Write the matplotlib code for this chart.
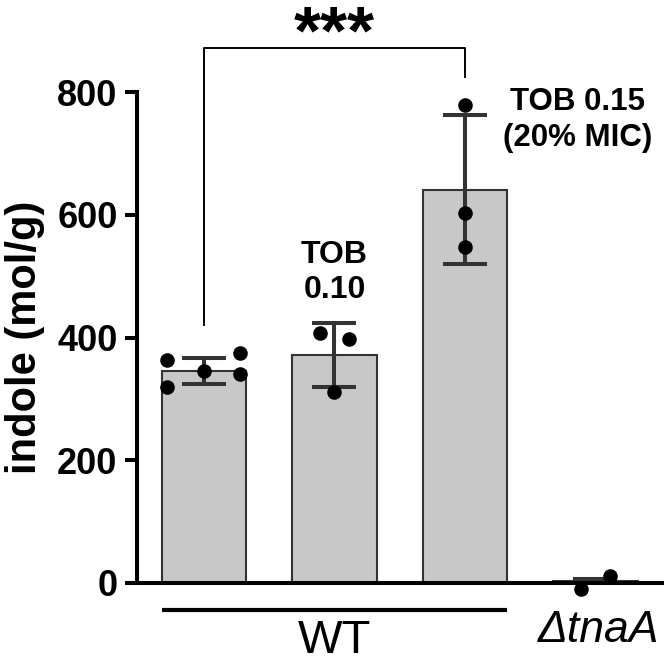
import matplotlib
matplotlib.use('Agg')
import matplotlib.pyplot as plt
import numpy as np

plt.rcParams['font.family'] = ['Liberation Sans', 'DejaVu Sans']

# values
groups = ['WT', 'WT TOB 0.10', 'WT TOB 0.15', 'tnaA']
means = [346, 372, 641, 3]
sds = [21, 52, 121, 3]
points = [
    [363, 320, 345, 375, 341],
    [408, 312, 397],
    [779, 603, 548],
    [-10, 12],
]
point_offsets = [
    [-0.28, -0.28, 0.0, 0.28, 0.28],
    [-0.11, 0.0, 0.11],
    [0.0, 0.0, 0.0],
    [-0.11, 0.11],
]
yticks = [0, 200, 400, 600, 800]

fig = plt.figure(figsize=(6.64, 6.62), dpi=100)
ax = fig.add_axes([137 / 664, 79 / 662, 527 / 664, 491 / 662])

x = np.arange(len(groups))
ax.bar(x, means, width=0.65, color='#c8c8c8', edgecolor='#333333',
       linewidth=1.5, zorder=1)
ax.errorbar(x, means, yerr=sds, fmt='none', ecolor='#333333',
            elinewidth=2.9, capsize=15.5, capthick=2.9, zorder=2)
for i, (vals, offs) in enumerate(zip(points, point_offsets)):
    ax.scatter(i + np.array(offs), vals, s=110, color='black', zorder=3,
               clip_on=False, linewidths=0)

ax.set_xlim(-0.513, 3.525)
ax.set_ylim(0, 800)
ax.set_yticks(yticks)
ax.set_xticks([])
for side in ['top', 'right']:
    ax.spines[side].set_visible(False)
for side in ['left', 'bottom']:
    ax.spines[side].set_linewidth(2.9)
ax.tick_params(axis='y', length=9, width=2.9, pad=5, labelsize=26)
for lab in ax.get_yticklabels():
    lab.set_fontweight('bold')
ax.set_ylabel('indole (mol/g)', fontsize=30, fontweight='bold', labelpad=9)

# significance bracket
ax.plot([0, 0, 2, 2], [420, 871, 871, 824], color='black', lw=1.4,
        clip_on=False)
ax.text(1, 863, '***', ha='center', va='baseline', fontsize=50,
        fontweight='bold', clip_on=False)

# treatment labels
ax.text(1, 506, 'TOB\n0.10', ha='center', va='center', fontsize=23,
        fontweight='bold', linespacing=1.25)
ax.text(2.866, 754, 'TOB 0.15\n(20% MIC)', ha='center', va='center',
        fontsize=22.5, fontweight='bold', linespacing=1.28, clip_on=False)

# strain labels below the axis
ax.plot([-0.325, 2.325], [-44, -44], color='black', lw=3, clip_on=False,
        solid_capstyle='butt')
ax.text(1, -94, 'WT', ha='center', va='center', fontsize=34)
ax.text(3.02, -77, 'ΔtnaA', ha='center', va='center', fontsize=32,
        style='italic')

fig.savefig('out.png', dpi=100)
